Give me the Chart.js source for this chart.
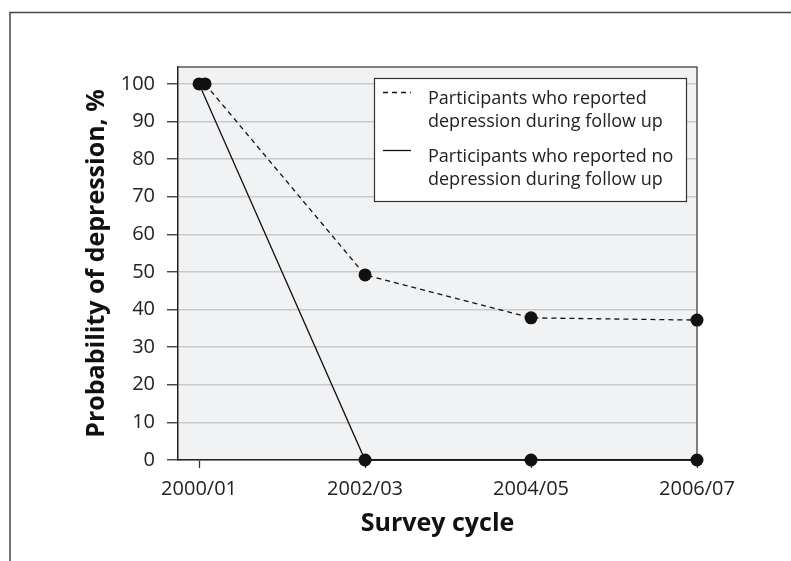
<!DOCTYPE html>
<html>
<head>
<meta charset="utf-8">
<script src="https://cdn.jsdelivr.net/npm/chart.js@4"></script>
<style>
html,body{margin:0;padding:0;background:#fff;}
#wrap{position:relative;width:791px;height:561px;}
</style>
</head>
<body>
<div id="wrap"><canvas id="c" width="791" height="561"></canvas></div>
<script>
const categories = ["2000/01", "2002/03", "2004/05", "2006/07"];
const seriesLabels = ["Participants who reported\ndepression during follow up", "Participants who reported no\ndepression during follow up"];
const depressedX = [0.036, 1, 2, 3];
const depressedY = [100, 49.2, 37.8, 37.2];
const notDepressedX = [0, 1, 2, 3];
const notDepressedY = [100, 0, 0, 0];
const yTicks = [0, 10, 20, 30, 40, 50, 60, 70, 80, 90, 100];

const FONT = "'Open Sans', 'Noto Sans', sans-serif";

const framePlugin = {
  id: 'frame',
  beforeDraw(chart) {
    const ctx = chart.ctx, a = chart.chartArea;
    ctx.save();
    ctx.fillStyle = '#fff';
    ctx.fillRect(0, 0, chart.width, chart.height);
    ctx.strokeStyle = '#444';
    ctx.lineWidth = 1.5;
    ctx.beginPath();
    ctx.moveTo(10, chart.height);
    ctx.lineTo(10, 12.5);
    ctx.lineTo(chart.width, 12.5);
    ctx.stroke();
    ctx.fillStyle = '#f1f2f4';
    ctx.fillRect(a.left, a.top, a.right - a.left, a.bottom - a.top);
    ctx.restore();
  },
  beforeDatasetsDraw(chart) {
    const ctx = chart.ctx, a = chart.chartArea;
    ctx.save();
    ctx.strokeStyle = '#555';
    ctx.lineWidth = 1.5;
    ctx.beginPath();
    ctx.moveTo(a.left, a.top);
    ctx.lineTo(a.right, a.top);
    ctx.lineTo(a.right, a.bottom);
    ctx.stroke();
    ctx.restore();
  },
  afterDraw(chart) {
    const ctx = chart.ctx, a = chart.chartArea;
    const bx = a.left + 196, by = a.top + 11, bw = (a.right - 11) - bx, bh = 123;
    ctx.save();
    ctx.fillStyle = '#fff';
    ctx.fillRect(bx, by, bw, bh);
    ctx.strokeStyle = '#333';
    ctx.lineWidth = 1.2;
    ctx.strokeRect(bx + 0.5, by + 0.5, bw, bh);
    ctx.font = '18px ' + FONT;
    ctx.fillStyle = '#222';
    ctx.textBaseline = 'middle';
    chart.data.datasets.forEach((ds, i) => {
      const lines = ds.label.split('\n');
      const y0 = by + 21 + i * 58;
      ctx.strokeStyle = '#111';
      ctx.lineWidth = ds.borderWidth;
      ctx.setLineDash(ds.borderDash || []);
      ctx.beginPath();
      ctx.moveTo(bx + 9, y0 - 6.5);
      ctx.lineTo(bx + 37, y0 - 6.5);
      ctx.stroke();
      ctx.setLineDash([]);
      lines.forEach((t, j) => ctx.fillText(t, bx + 54, y0 + j * 23));
    });
    ctx.restore();
  }
};

new Chart(document.getElementById('c'), {
  type: 'line',
  data: {
    datasets: [
      {
        label: seriesLabels[0],
        data: depressedX.map((x, i) => ({x: x, y: depressedY[i]})),
        borderColor: '#111', backgroundColor: '#111',
        borderWidth: 1.3, borderDash: [5, 4],
        pointRadius: 6.5, pointBackgroundColor: '#111', pointBorderWidth: 0,
        clip: false, tension: 0
      },
      {
        label: seriesLabels[1],
        data: notDepressedX.map((x, i) => ({x: x, y: notDepressedY[i]})),
        borderColor: '#111', backgroundColor: '#111',
        borderWidth: 1.3,
        pointRadius: 6.5, pointBackgroundColor: '#111', pointBorderWidth: 0,
        clip: false, tension: 0
      }
    ]
  },
  options: {
    responsive: false,
    animation: false,
    layout: {padding: {left: 0, top: 67, right: 94, bottom: 0}},
    plugins: {legend: {display: false}, tooltip: {enabled: false}},
    scales: {
      x: {
        type: 'linear',
        min: -0.127, max: 3,
        afterBuildTicks(s) { s.ticks = categories.map((c, i) => ({value: i})); },
        afterFit(s) { s.height = 101; },
        ticks: {
          callback: (v) => categories[v] !== undefined ? categories[v] : '',
          font: {family: FONT, size: 20}, color: '#222', padding: 9, maxRotation: 0, autoSkip: false
        },
        grid: {drawOnChartArea: false, drawTicks: true, tickLength: 8, tickColor: '#333', tickWidth: 1.3},
        border: {color: '#222', width: 1.5},
        title: {display: true, text: 'Survey cycle', font: {family: FONT, size: 25, weight: 'bold'}, color: '#111', padding: {top: 0, bottom: 22}}
      },
      y: {
        min: 0, max: 104.5,
        afterBuildTicks(s) { s.ticks = yTicks.map(v => ({value: v})); },
        afterFit(s) { s.width = 178; },
        ticks: {font: {family: FONT, size: 20}, color: '#222', padding: 12},
        grid: {color: '#c8c9cb', lineWidth: 1.5, tickLength: 11, tickColor: '#333', tickWidth: 1.3},
        border: {color: '#222', width: 1.5},
        title: {display: true, text: 'Probability of depression, %', font: {family: FONT, size: 25, weight: 'bold'}, color: '#111', padding: {top: 82, bottom: 0}}
      }
    }
  },
  plugins: [framePlugin]
});
</script>
</body>
</html>
